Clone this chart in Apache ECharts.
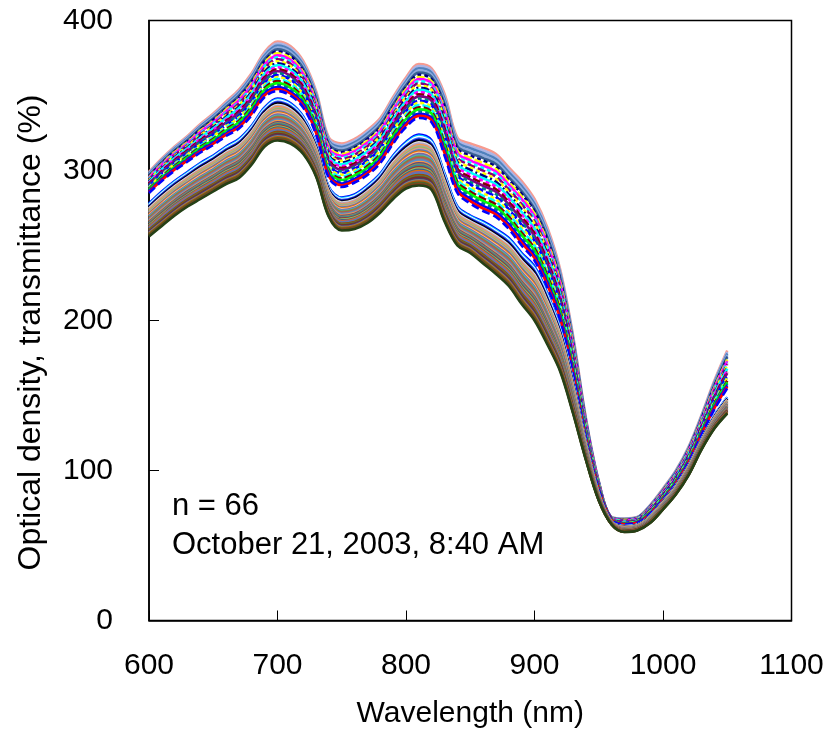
<!DOCTYPE html>
<html><head><meta charset="utf-8">
<script src="https://cdn.jsdelivr.net/npm/echarts@6/dist/echarts.min.js"></script>
<style>html,body{margin:0;padding:0;background:#fff}#c{width:829px;height:736px}</style>
</head><body><div id="c"></div>
<script>
// Wavelengths (nm) at which the spectra were read
const wavelengths = [600,610,620,630,640,650,660,670,680,690,700,710,720,730,740,750,760,770,780,790,800,810,820,830,840,850,860,870,880,890,900,910,920,930,940,950,960,970,980,990,1000,1010,1020,1030,1040,1050];
// Upper bundle of spectra (dashed/bright colours): highest and lowest curve
const upperTop    = [299,308,316,323,331,338,346,354,365,379,386,383,373,353,322,318,321,327,335,349,362,371,368,351,322,318,315,311,302,293,281,262,234,190,135,93,69,68,69,77,88,100,116,137,160,180];
const upperBottom = [285,293,300,306,312,317,323,328,337,349,353,350,342,324,295,289,292,297,305,318,329,335,332,310,285,278,273,269,261,250,240,222,200,164,121,87,67,64,65,71,80.4,91.2,105.4,123.7,140.8,154.8];
// Lower bundle of spectra (solid colours): highest and lowest curve
const lowerTop    = [278,286,293,299,305,310,316,321,330,342,348,345,336,318,289,282,284,290,298,310,319,324,320,298,276,270,266,261,255,245,236,218,195,160,119,85,66,63,64,70,79.6,90.1,103.8,121.1,136.6,148.9];
const lowerBottom = [256,263,270,276,281,286,291,295,304,316,320,318,311,296,269,260,261,265,272,281,288,290,287,266,250,245,238,231,223,211,200,184,166,138,107,80,64,59,60,65,74,84,97,114,128,138];
const upperCount = 26;
const lowerCount = 40;
const sampleSize = 66;
const noteLines = ['n = ' + sampleSize, 'October 21, 2003, 8:40 AM'];

// styling
const upperColors = ['#F79A8E','#AAB4E6','#4F81BD','#8EA9DB','#376092','#000080','#FFFF00','#FF00FF','#00FFFF','#800080','#FFFF00','#000080','#00FFFF','#FF00FF','#800000','#800080','#008080','#0000FF','#FFFF00','#00FFFF','#800000','#00FF00','#008080','#0000FF','#FF0000','#0000FF'];
const upperDash = ['solid','solid','solid','solid','solid',[4,3],[8,3],'solid',[4,3],[8,3],[4,3],[8,3,2,3],'solid',[4,3],[8,3],'solid',[4,3],[8,3],[4,3],[8,3],[8,3],'solid',[4,3],'solid','solid',[8,4]];
const lowerColors = ['#0000FF','#00CCFF','#FFFFFF','#3366FF','#000080','#000000','#E0E0E0','#B3A2C7','#F79646','#A6A6A6','#9BBB59','#D99694','#4F81BD','#E46C0A','#FAC090','#8064A2','#4BACC6','#77933C','#C0504D','#7F7F7F','#558ED5','#F79646','#604A7B','#948A54','#31859C','#953735','#9BBB59','#376092','#E46C0A','#8064A2','#4F81BD','#984807','#5F7530','#772C2A','#4D3B62','#7F7F7F','#B65708','#4F6228','#7F3F1F','#254117'];

const FONT = '"Liberation Sans", Arial, sans-serif';

function bundle(top, bottom, n) {
  const out = [];
  for (let i = 0; i < n; i++) {
    const f = n === 1 ? 0 : i / (n - 1);
    out.push(wavelengths.map((w, j) => [w, +(top[j] - (top[j] - bottom[j]) * f).toFixed(2)]));
  }
  return out;
}

const series = [];
bundle(upperTop, upperBottom, upperCount).forEach((d, i) => {
  series.push({type:'line', data:d, showSymbol:false, smooth:0.35, silent:true,
    lineStyle:{color:upperColors[i % upperColors.length], width:2.6, type:upperDash[i % upperDash.length]}});
});
bundle(lowerTop, lowerBottom, lowerCount).forEach((d, i) => {
  series.push({type:'line', data:d, showSymbol:false, smooth:0.35, silent:true,
    lineStyle:{color:lowerColors[i % lowerColors.length], width:2.6, type:'solid'}});
});

const chart = echarts.init(document.getElementById('c'));
chart.setOption({
  animation:false,
  backgroundColor:'#fff',
  grid:{left:149, right:37.5, top:20.5, bottom:115.5, show:true, borderColor:'#000', borderWidth:1.5, backgroundColor:'transparent'},
  xAxis:{type:'value', min:600, max:1100, interval:100,
    name:'Wavelength (nm)', nameLocation:'middle', nameGap:78,
    nameTextStyle:{fontSize:30, color:'#000', fontFamily:FONT},
    axisLine:{show:true, lineStyle:{color:'#000', width:1.5}},
    axisTick:{show:true, inside:true, length:10, lineStyle:{color:'#000', width:1}},
    axisLabel:{fontSize:30, color:'#000', margin:30, fontFamily:FONT, formatter:v => String(v)},
    splitLine:{show:false}},
  yAxis:{type:'value', min:0, max:400, interval:100,
    name:'Optical density, transmittance (%)', nameLocation:'middle', nameGap:102, nameRotate:90,
    nameTextStyle:{fontSize:32, color:'#000', fontFamily:FONT, padding:[0,24,0,0]},
    axisLine:{show:true, lineStyle:{color:'#000', width:1.5}},
    axisTick:{show:true, inside:true, length:10, lineStyle:{color:'#000', width:1}},
    axisLabel:{fontSize:30, color:'#000', margin:36, fontFamily:FONT, formatter:v => String(v)},
    splitLine:{show:false}},
  graphic:[
    {type:'text', left:172, top:491, style:{text:noteLines[0], fontSize:31, fill:'#000', fontFamily:FONT}},
    {type:'text', left:172, top:530, style:{text:noteLines[1], fontSize:31, fill:'#000', fontFamily:FONT}}
  ],
  series:series
});
</script>
</body></html>
